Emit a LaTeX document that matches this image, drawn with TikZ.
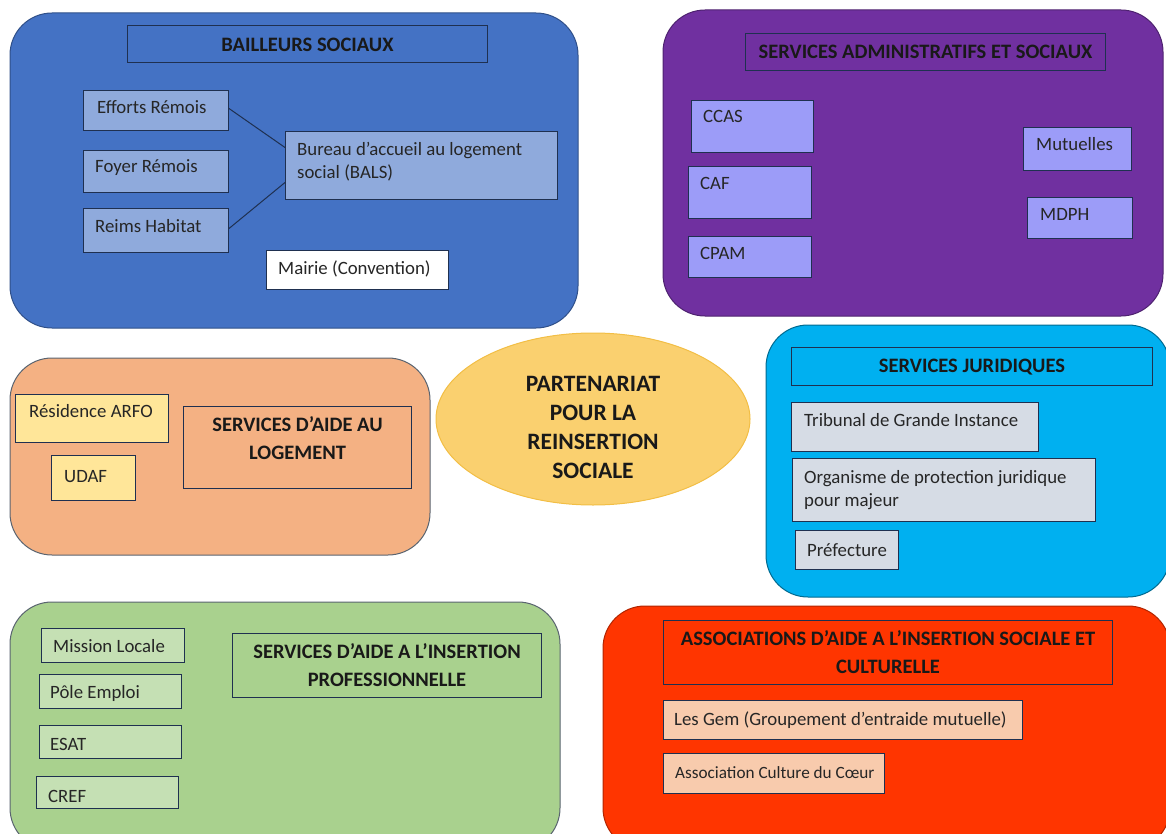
\documentclass[tikz,border=0pt]{standalone}
\usepackage{fontspec}
\setmainfont{Carlito}
\usetikzlibrary{calc,shapes.geometric}
\definecolor{cBlue}{HTML}{4472C4}
\definecolor{cBlueIn}{HTML}{8FAADC}
\definecolor{cPurple}{HTML}{7030A0}
\definecolor{cPurpleIn}{HTML}{9C9CF8}
\definecolor{cOrange}{HTML}{F4B183}
\definecolor{cOrangeIn}{HTML}{FFE699}
\definecolor{cEll}{HTML}{FAD06F}
\definecolor{cEllB}{HTML}{F2BE45}
\definecolor{cCyan}{HTML}{00B0F0}
\definecolor{cGrey}{HTML}{D6DCE5}
\definecolor{cGreen}{HTML}{A9D18E}
\definecolor{cGreenIn}{HTML}{C5E0B4}
\definecolor{cRed}{HTML}{FF3500}
\definecolor{cRedIn}{HTML}{F8CBAD}
\definecolor{cLine}{HTML}{1F3050}
\definecolor{cFrame}{HTML}{5A6470}
\tikzset{
  group/.style={draw=cFrame, line width=1pt, rounded corners=42pt},
  ibox/.style={draw=cLine, line width=1pt, anchor=north west, inner sep=0pt},
  txt/.style={font=\fontsize{18.8}{23}\selectfont, inner sep=0pt, anchor=base west, text=black!85},
  ttl/.style={font=\fontsize{20.5}{28}\selectfont\bfseries, inner sep=0pt, align=center, text=black!90},
  conn/.style={draw=cLine, line width=1pt}
}
\newcommand{\bx}[5]{\node[ibox, fill=#5, minimum width=#3pt, minimum height=#4pt] (#1) at (#2) {};}
\begin{document}
\begin{tikzpicture}[x=1pt,y=-1pt]
\useasboundingbox (0,0) rectangle (1166,834);
\begin{scope}
\clip (0,0) rectangle (1166,834);
% ---- groups
\draw[group, fill=cBlue, draw=cBlue!70!black] (10,13) rectangle (578,328);
\draw[group, fill=cPurple, draw=cPurple!70!black] (663,10) rectangle (1163,316);
\draw[group, fill=cOrange] (10,358) rectangle (430,555);
\draw[group, fill=cCyan, draw=cCyan!60!black] (766,325) rectangle (1170,597);
\draw[group, fill=cGreen] (10,602) rectangle (560,850);
\draw[group, fill=cRed, draw=cRed!70!black] (603,606) rectangle (1170,850);
\end{scope}

% ---- Bailleurs sociaux
\bx{bst}{127,25}{360}{37}{cBlue}
\node[ttl] (bsl) at ($(bst.center)+(0,1)$) {BAILLEURS SOCIAUX};
\bx{eff}{83,90}{145}{40}{cBlueIn}
\node[txt] at ($(eff.north west)+(14,24)$) {Efforts Rémois};
\bx{foy}{83,150}{145}{42}{cBlueIn}
\node[txt] at ($(foy.north west)+(12,23)$) {Foyer Rémois};
\bx{rei}{83,208}{145}{44}{cBlueIn}
\node[txt] at ($(rei.north west)+(12,25)$) {Reims Habitat};
\bx{bal}{285,131}{272}{68}{cBlueIn}
\node[txt] at ($(bal.north west)+(12,25)$) {Bureau d’accueil au logement};
\node[txt] at ($(bal.north west)+(12,48)$) {social (BALS)};
\bx{mai}{266,250}{182}{39}{white}
\node[txt] at ($(mai.north west)+(12,24)$) {Mairie (Convention)};
\draw[conn] (eff.east) ++(0,-2) -- ($(bal.west)+(0,-18)$);
\draw[conn] (rei.east) ++(0,-2) -- ($(bal.west)+(0,17)$);

% ---- Services administratifs et sociaux
\bx{sat}{745,33}{360}{37}{cPurple}
\node[ttl] at (sat.center) {SERVICES ADMINISTRATIFS ET SOCIAUX};
\bx{ccas}{691,100}{122}{52}{cPurpleIn}
\node[txt] at ($(ccas.north west)+(12,23)$) {CCAS};
\bx{caf}{688,166}{123}{52}{cPurpleIn}
\node[txt] at ($(caf.north west)+(12,24)$) {CAF};
\bx{cpam}{688,236}{123}{41}{cPurpleIn}
\node[txt] at ($(cpam.north west)+(12,23)$) {CPAM};
\bx{mut}{1023,127}{108}{43}{cPurpleIn}
\node[txt] at ($(mut.north west)+(13,24)$) {Mutuelles};
\bx{mdph}{1027,197}{105}{41}{cPurpleIn}
\node[txt] at ($(mdph.north west)+(13,24)$) {MDPH};

% ---- Services d'aide au logement
\bx{alt}{183,406}{228}{82}{cOrange}
\node[ttl] at ($(alt.north)+(0,32)$) {SERVICES D’AIDE AU\\LOGEMENT};
\bx{arfo}{15,394}{153}{48}{cOrangeIn}
\node[txt] at ($(arfo.north west)+(14,23)$) {Résidence ARFO};
\bx{udaf}{51,455}{84}{45}{cOrangeIn}
\node[txt] at ($(udaf.north west)+(13,27)$) {UDAF};

% ---- Centre
\node[ellipse, draw=cEllB, line width=1pt, fill=cEll, minimum width=314pt, minimum height=172pt, inner sep=0pt] (part) at (593,419) {};
\node[ttl, font=\fontsize{23.5}{29}\selectfont\bfseries] at ($(part.center)+(0,8)$) {PARTENARIAT\\POUR LA\\REINSERTION\\SOCIALE};

% ---- Services juridiques
\bx{sjt}{791,347}{361}{38}{cCyan}
\node[ttl] at ($(sjt.center)+(0,1)$) {SERVICES JURIDIQUES};
\bx{tgi}{791,402}{247}{49}{cGrey}
\node[txt] at ($(tgi.north west)+(13,24)$) {Tribunal de Grande Instance};
\bx{opj}{792,458}{303}{63}{cGrey}
\node[txt] at ($(opj.north west)+(12,25)$) {Organisme de protection juridique};
\node[txt] at ($(opj.north west)+(12,48)$) {pour majeur};
\bx{pref}{795,530}{103}{39}{cGrey}
\node[txt] at ($(pref.north west)+(12,26)$) {Préfecture};

% ---- Insertion professionnelle
\bx{ipt}{232,633}{309}{64}{cGreen}
\node[ttl] at (ipt.center) {SERVICES D’AIDE A L’INSERTION\\PROFESSIONNELLE};
\bx{mil}{41,628}{143}{34}{cGreenIn}
\node[txt] at ($(mil.north west)+(12,24)$) {Mission Locale};
\bx{pol}{39,674}{142}{34}{cGreenIn}
\node[txt] at ($(pol.north west)+(11,24)$) {Pôle Emploi};
\bx{esat}{39,725}{142}{33}{cGreenIn}
\node[txt] at ($(esat.north west)+(11,25)$) {ESAT};
\bx{cref}{36,776}{142}{32}{cGreenIn}
\node[txt] at ($(cref.north west)+(12,26)$) {CREF};

% ---- Associations
\bx{ast}{663,620}{449}{64}{cRed}
\node[ttl] at (ast.center) {ASSOCIATIONS D’AIDE A L’INSERTION SOCIALE ET\\CULTURELLE};
\bx{gem}{663,700}{359}{39}{cRedIn}
\node[txt] at ($(gem.north west)+(11,25)$) {Les Gem (Groupement d’entraide mutuelle)};
\bx{acc}{663,753}{221}{40}{cRedIn}
\node[txt, font=\fontsize{17.2}{21}\selectfont] at ($(acc.north west)+(12,25)$) {Association Culture du Cœur};
\end{tikzpicture}
\end{document}
